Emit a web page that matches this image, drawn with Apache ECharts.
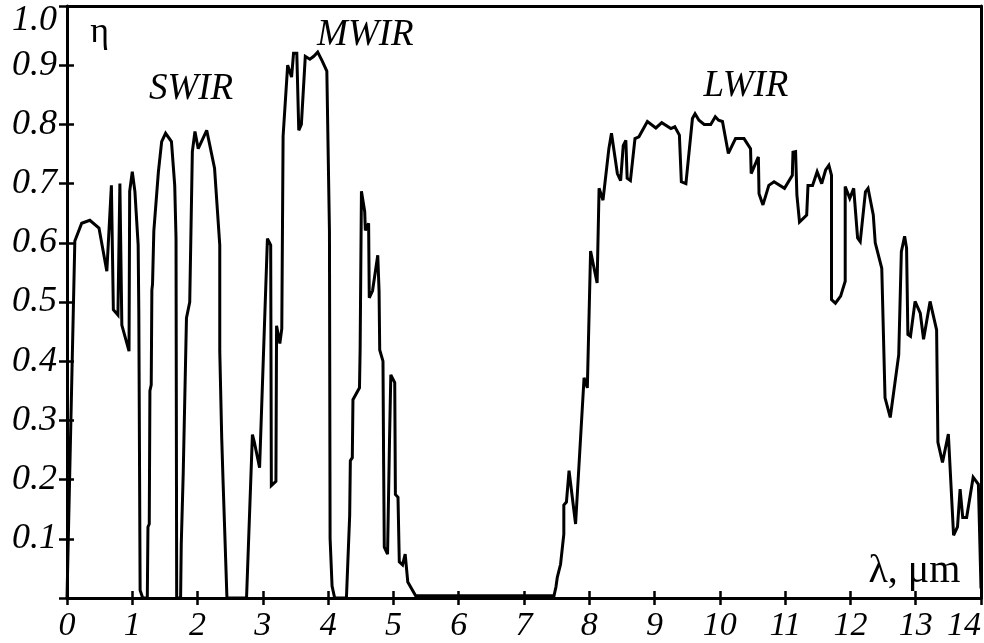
<!DOCTYPE html>
<html>
<head>
<meta charset="utf-8">
<script src="https://cdn.jsdelivr.net/npm/echarts@6/dist/echarts.min.js"></script>
<style>
html,body{margin:0;padding:0;background:#fff;}
#chart{width:984px;height:643px;}
</style>
</head>
<body>
<div id="chart"></div>
<script>
// Wavelength (µm) and transmittance η, by band
var swirLambda = [0, 0.12, 0.225, 0.35, 0.49, 0.61, 0.68, 0.71, 0.78, 0.81, 0.84, 0.95, 0.96, 1.00, 1.04, 1.09, 1.10, 1.12, 1.16, 1.23, 1.24, 1.26, 1.27, 1.29, 1.30, 1.31, 1.33, 1.40, 1.45, 1.51, 1.60, 1.65, 1.67, 1.68, 1.74, 1.75, 1.78, 1.83, 1.88, 1.92, 1.96, 2.01, 2.14, 2.26, 2.34, 2.34, 2.37, 2.39, 2.45];
var swirEta    = [0, 0.603, 0.633, 0.638, 0.625, 0.552, 0.697, 0.487, 0.478, 0.700, 0.461, 0.417, 0.687, 0.72, 0.687, 0.596, 0.485, 0.013, 0, 0, 0.12, 0.125, 0.35, 0.36, 0.52, 0.53, 0.62, 0.72, 0.771, 0.785, 0.771, 0.697, 0.608, 0, 0, 0.09, 0.21, 0.473, 0.50, 0.754, 0.788, 0.759, 0.79, 0.726, 0.596, 0.417, 0.27, 0.199, 0];

var mwirLambda = [2.75, 2.84, 2.87, 2.95, 3.07, 3.12, 3.13, 3.20, 3.21, 3.26, 3.29, 3.31, 3.38, 3.44, 3.47, 3.52, 3.55, 3.59, 3.65, 3.72, 3.78, 3.84, 3.91, 3.98, 4.02, 4.03, 4.06, 4.10, 4.28, 4.33, 4.34, 4.37, 4.38, 4.48, 4.49, 4.51, 4.56, 4.57, 4.62, 4.63, 4.68, 4.76, 4.78, 4.79, 4.84, 4.85, 4.86, 4.91, 4.94, 4.96, 5.02, 5.03, 5.07, 5.09, 5.14, 5.18, 5.22, 5.34];
var mwirEta    = [0, 0.276, 0.263, 0.22, 0.607, 0.596, 0.19, 0.197, 0.46, 0.43, 0.455, 0.78, 0.90, 0.88, 0.92, 0.92, 0.79, 0.80, 0.915, 0.91, 0.915, 0.922, 0.907, 0.89, 0.62, 0.10, 0.02, 0, 0, 0.14, 0.232, 0.237, 0.335, 0.355, 0.42, 0.687, 0.653, 0.621, 0.633, 0.507, 0.519, 0.579, 0.519, 0.419, 0.40, 0.226, 0.086, 0.074, 0.266, 0.377, 0.364, 0.175, 0.17, 0.061, 0.056, 0.074, 0.027, 0.004];

var gapLambda = [6.0, 7.0, 7.40];
var gapEta    = [0.004, 0.004, 0.004];

var lwirLambda = [7.46, 7.49, 7.51, 7.56, 7.61, 7.61, 7.65, 7.69, 7.79, 7.92, 7.97, 8.02, 8.12, 8.15, 8.21, 8.30, 8.34, 8.43, 8.48, 8.52, 8.56, 8.58, 8.63, 8.70, 8.76, 8.89, 9.02, 9.11, 9.25, 9.31, 9.38, 9.41, 9.48, 9.58, 9.62, 9.68, 9.76, 9.86, 9.93, 9.98, 10.04, 10.13, 10.24, 10.37, 10.47, 10.48, 10.59, 10.60, 10.66, 10.75, 10.83, 10.99, 11.11, 11.12, 11.16, 11.18, 11.22, 11.33, 11.35, 11.42, 11.49, 11.56, 11.62, 11.67, 11.71, 11.71, 11.77, 11.85, 11.92, 11.92, 11.99, 12.05, 12.11, 12.15, 12.23, 12.27, 12.35, 12.38, 12.48, 12.53, 12.61, 12.74, 12.78, 12.83, 12.86, 12.88, 12.92, 12.99, 13.07, 13.12, 13.22, 13.32, 13.34, 13.41, 13.50, 13.58, 13.64, 13.68, 13.72, 13.78, 13.88, 13.96, 14.0];
var lwirEta    = [0.004, 0.019, 0.035, 0.057, 0.108, 0.157, 0.162, 0.215, 0.125, 0.372, 0.355, 0.586, 0.532, 0.692, 0.672, 0.759, 0.785, 0.717, 0.705, 0.764, 0.773, 0.709, 0.705, 0.776, 0.779, 0.805, 0.794, 0.803, 0.793, 0.796, 0.782, 0.703, 0.700, 0.81, 0.818, 0.807, 0.80, 0.80, 0.813, 0.807, 0.805, 0.751, 0.776, 0.776, 0.759, 0.717, 0.745, 0.683, 0.664, 0.697, 0.703, 0.692, 0.714, 0.753, 0.754, 0.681, 0.635, 0.647, 0.697, 0.697, 0.72, 0.70, 0.723, 0.731, 0.714, 0.504, 0.498, 0.51, 0.535, 0.695, 0.675, 0.692, 0.608, 0.602, 0.686, 0.692, 0.647, 0.60, 0.557, 0.338, 0.305, 0.411, 0.585, 0.611, 0.591, 0.445, 0.442, 0.501, 0.481, 0.437, 0.501, 0.453, 0.263, 0.229, 0.277, 0.106, 0.12, 0.184, 0.136, 0.136, 0.204, 0.192, 0.016];

var xTickLabels = ['0','1','2','3','4','5','6','7','8','9','10','11','12','13','14'];
var yTickLabels = ['', '0.1','0.2','0.3','0.4','0.5','0.6','0.7','0.8','0.9','1.0'];

var bandLabels = [
  {text: 'SWIR', x: 1.9, y: 0.86},
  {text: 'MWIR', x: 4.57, y: 0.95},
  {text: 'LWIR', x: 10.4, y: 0.865}
];

function pairs(xs, ys) { var o = []; for (var i = 0; i < xs.length; i++) o.push([xs[i], ys[i]]); return o; }
var data = [].concat(pairs(swirLambda, swirEta), pairs(mwirLambda, mwirEta), pairs(gapLambda, gapEta), pairs(lwirLambda, lwirEta));

var chart = echarts.init(document.getElementById('chart'), null, {renderer: 'canvas'});
var serif = '"Liberation Serif", "DejaVu Serif", serif';
var lineW = 3;

var option = {
  animation: false,
  backgroundColor: '#fff',
  grid: {left: 67, right: 1, top: 6, bottom: 42, containLabel: false},
  xAxis: [
    {type: 'value', min: 0, max: 14, interval: 1, position: 'bottom',
     axisLine: {show: true, onZero: false, lineStyle: {color: '#000', width: lineW}},
     axisTick: {show: true, inside: false, length: 7, lineStyle: {color: '#000', width: 2.5}},
     axisLabel: {show: true, margin: 11, fontFamily: serif, fontStyle: 'italic', fontSize: 34, color: '#000',
       alignMaxLabel: 'right',
       formatter: function (v) { return xTickLabels[Math.round(v)]; }},
     splitLine: {show: false}},
    {type: 'value', min: 0, max: 14, interval: 1, position: 'bottom',
     axisLine: {show: false, onZero: false},
     axisTick: {show: true, inside: true, length: 7, lineStyle: {color: '#000', width: 2.5}},
     axisLabel: {show: false}, splitLine: {show: false}},
    {type: 'value', min: 0, max: 14, position: 'top',
     axisLine: {show: true, onZero: false, lineStyle: {color: '#000', width: lineW}},
     axisTick: {show: false}, axisLabel: {show: false}, splitLine: {show: false}}
  ],
  yAxis: [
    {type: 'value', min: 0, max: 1, interval: 0.1, position: 'left',
     axisLine: {show: true, onZero: false, lineStyle: {color: '#000', width: lineW}},
     axisTick: {show: true, inside: false, length: 8, lineStyle: {color: '#000', width: 2.5}},
     axisLabel: {show: true, margin: 10, fontFamily: serif, fontStyle: 'italic', fontSize: 36, color: '#000',
       formatter: function (v) {
         var s = yTickLabels[Math.round(v * 10)];
         if (Math.round(v * 10) === 10) return '{top|' + s + '}';
         return s;
       },
       rich: {top: {fontFamily: serif, fontStyle: 'italic', fontSize: 36, color: '#000', padding: [30, 0, 0, 0]}}},
     splitLine: {show: false}},
    {type: 'value', min: 0, max: 1, interval: 0.1, position: 'left',
     axisLine: {show: false, onZero: false},
     axisTick: {show: true, inside: true, length: 7, lineStyle: {color: '#000', width: 2.5}},
     axisLabel: {show: false}, splitLine: {show: false}},
    {type: 'value', min: 0, max: 1, position: 'right',
     axisLine: {show: true, onZero: false, lineStyle: {color: '#000', width: lineW}},
     axisTick: {show: false}, axisLabel: {show: false}, splitLine: {show: false}}
  ],
  series: [{
    type: 'line', xAxisIndex: 0, yAxisIndex: 0,
    data: data, showSymbol: false, symbol: 'none', smooth: false,
    lineStyle: {color: '#000', width: lineW, join: 'miter', miterLimit: 3},
    clip: true, z: 3
  }]
};
chart.setOption(option);

// annotations positioned in data coordinates
var g = [];
bandLabels.forEach(function (b) {
  var p = chart.convertToPixel({xAxisIndex: 0, yAxisIndex: 0}, [b.x, b.y]);
  g.push({type: 'text', x: p[0], y: p[1], style: {text: b.text, font: 'italic 37px ' + serif, fill: '#000', align: 'center', verticalAlign: 'middle'}});
});
var pe = chart.convertToPixel({xAxisIndex: 0, yAxisIndex: 0}, [0.5, 0.955]);
g.push({type: 'text', x: pe[0], y: pe[1], style: {text: 'η', font: '36px ' + serif, fill: '#000', align: 'center', verticalAlign: 'middle'}});
var pl = chart.convertToPixel({xAxisIndex: 0, yAxisIndex: 0}, [12.98, 0.045]);
g.push({type: 'text', x: pl[0], y: pl[1], style: {text: 'λ, μm', font: '40px ' + serif, fill: '#000', align: 'center', verticalAlign: 'middle'}});
chart.setOption({graphic: g});
</script>
</body>
</html>
